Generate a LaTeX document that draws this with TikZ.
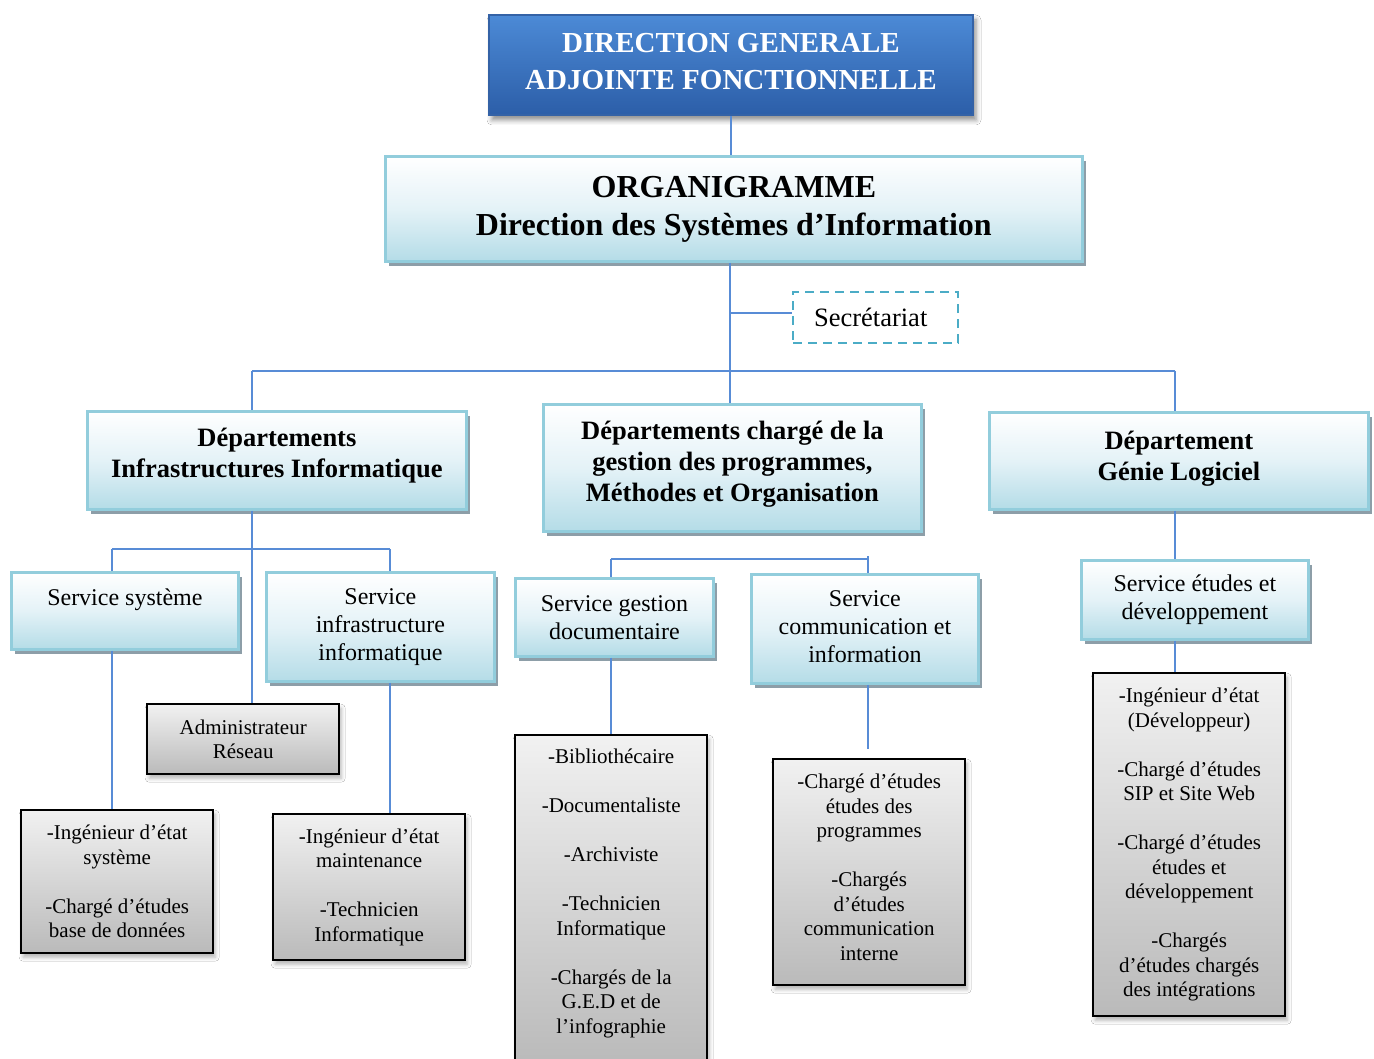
\documentclass[tikz,border=0pt]{standalone}
\usepackage{fontspec}
\setmainfont{Liberation Serif}
\usetikzlibrary{shadows,shadows.blur}

\definecolor{linkblue}{RGB}{88,140,214}
\definecolor{boxedge}{RGB}{146,205,220}
\definecolor{boxmid}{RGB}{228,242,247}
\definecolor{boxfill}{RGB}{180,220,231}
\definecolor{boxshadow}{RGB}{141,158,168}
\definecolor{dashcol}{RGB}{75,172,198}
\definecolor{graytop}{RGB}{241,241,241}
\definecolor{graybot}{RGB}{186,186,186}
\definecolor{bluetop}{RGB}{76,138,214}
\definecolor{bluebot}{RGB}{44,94,168}
\definecolor{blueedge}{RGB}{52,98,166}

% invisible strut giving the last text line a fixed depth, so the text sits higher in its box
\newcommand{\deepline}[1]{\rule[-#1]{0pt}{0pt}}

\tikzset{
  conn/.style={draw=linkblue, line width=2pt},
  topbox/.style={rectangle, anchor=north west, draw=blueedge, line width=2pt,
    top color=bluetop, bottom color=bluebot, text=white, align=center,
    font=\bfseries\fontsize{29pt}{37pt}\selectfont, inner sep=0pt,
    blur shadow={shadow xshift=3pt, shadow yshift=-5pt, shadow blur radius=5pt, shadow opacity=45}},
  lbox/.style={rectangle, anchor=north west, draw=boxedge, line width=2.8pt,
    top color=white, bottom color=boxfill, middle color=boxmid, align=center, inner sep=0pt,
    drop shadow={fill=boxshadow, opacity=1, shadow xshift=4pt, shadow yshift=-5pt}},
  titlefont/.style={font=\bfseries\fontsize{32pt}{38pt}\selectfont},
  deptfont/.style={font=\bfseries\fontsize{26.5pt}{31pt}\selectfont},
  svcfont/.style={font=\fontsize{24pt}{28pt}\selectfont},
  gbox/.style={rectangle, anchor=north west, draw=black, line width=2.4pt,
    top color=graytop, bottom color=graybot, align=center, inner sep=0pt,
    font=\fontsize{21pt}{24.5pt}\selectfont,
    blur shadow={shadow xshift=2pt, shadow yshift=-4pt, shadow blur radius=4pt, shadow opacity=30}},
  secbox/.style={rectangle, anchor=north west, draw=dashcol, line width=2.4pt,
    dash pattern=on 9pt off 6pt, fill=white, inner sep=0pt,
    font=\fontsize{26.5pt}{30pt}\selectfont}
}

\begin{document}
\begin{tikzpicture}[x=1pt,y=-1pt]
\fill[white] (0,0) rectangle (1374,1059);
\useasboundingbox (0,0) rectangle (1374,1059);

% junction points of the connector tree
\coordinate (hub)  at (730,371);
\coordinate (busL) at (252,371);
\coordinate (busR) at (1175,371);
\coordinate (secj) at (730,313);
\coordinate (s1L)  at (112,549);
\coordinate (s1R)  at (390,549);
\coordinate (s2L)  at (611,559);
\coordinate (s2R)  at (868,559);
\coordinate (s2Rt) at (868,556);
\coordinate (comend) at (868,749);

% direction
\node[topbox, minimum width=484pt, minimum height=100pt] (dga) at (488,14)
  {DIRECTION GENERALE\\ADJOINTE FONCTIONNELLE\deepline{8pt}};
\node[lbox, titlefont, minimum width=697pt, minimum height=105pt] (org) at (384,155)
  {ORGANIGRAMME\\Direction des Systèmes d’Information};
\node[secbox, minimum width=165pt, minimum height=51pt] (sec) at (792,291)
  {Secrétariat\hspace*{10pt}};

% departments
\node[lbox, deptfont, minimum width=379pt, minimum height=98pt] (d1) at (86,410)
  {Départements\\Infrastructures Informatique\deepline{15.5pt}};
\node[lbox, deptfont, minimum width=378pt, minimum height=127pt] (d2) at (542,403)
  {Départements chargé de la\\gestion des programmes,\\Méthodes et Organisation\deepline{13.5pt}};
\node[lbox, deptfont, minimum width=379pt, minimum height=97pt] (d3) at (988,411)
  {Département\\Génie Logiciel\deepline{9.5pt}};

% services
\node[lbox, svcfont, minimum width=227pt, minimum height=77pt, text depth=27pt] (ss) at (10,571)
  {Service système};
\node[lbox, svcfont, minimum width=228pt, minimum height=109pt] (si) at (265,571)
  {Service\\infrastructure\\informatique};
\node[lbox, svcfont, minimum width=198pt, minimum height=78pt] (sg) at (514,577)
  {Service gestion\\documentaire};
\node[lbox, svcfont, minimum width=227pt, minimum height=109pt] (sc) at (750,573)
  {Service\\communication et\\information\deepline{4pt}};
\node[lbox, svcfont, minimum width=227pt, minimum height=79pt] (se) at (1080,559)
  {Service études et\\développement};

% staff
\node[gbox, minimum width=192pt, minimum height=70pt] (adm) at (146,703)
  {Administrateur\\Réseau};
\node[gbox, minimum width=192pt, minimum height=143pt] (g1) at (20,809)
  {-Ingénieur d’état\\système\\[24.5pt]-Chargé d’études\\base de données};
\node[gbox, minimum width=192pt, minimum height=146pt] (g2) at (272,813)
  {-Ingénieur d’état\\maintenance\\[24.5pt]-Technicien\\Informatique};
\node[gbox, minimum width=192pt, minimum height=328pt] (g3) at (514,734)
  {-Bibliothécaire\\[24.5pt]-Documentaliste\\[24.5pt]-Archiviste\\[24.5pt]%
   -Technicien\\Informatique\\[24.5pt]-Chargés de la\\G.E.D et de\\l’infographie\deepline{16.5pt}};
\node[gbox, minimum width=192pt, minimum height=226pt] (g4) at (772,758)
  {-Chargé d’études\\études des\\programmes\\[24.5pt]%
   -Chargés\\d’études\\communication\\interne\deepline{10pt}};
\node[gbox, minimum width=192pt, minimum height=343pt] (g5) at (1092,672)
  {-Ingénieur d’état\\(Développeur)\\[24.5pt]-Chargé d’études\\SIP et Site Web\\[24.5pt]-Chargé d’études\\études et\\développement\\[24.5pt]-Chargés\\d’études chargés\\des intégrations};

% connectors
\draw[conn] (dga.south) -- (dga.south |- org.north);
\draw[conn] (hub |- org.south) -- (hub);
\draw[conn] (secj) -- (secj -| sec.west);
\draw[conn] (busL) -- (busR);
\draw[conn] (busL) -- (busL |- d1.north);
\draw[conn] (hub) -- (hub |- d2.north);
\draw[conn] (busR) -- (busR |- d3.north);

\draw[conn] (busL |- d1.south) -- (busL |- adm.north);
\draw[conn] (s1L) -- (s1R);
\draw[conn] (s1L) -- (s1L |- ss.north);
\draw[conn] (s1R) -- (s1R |- si.north);
\draw[conn] (s1L |- ss.south) -- (s1L |- g1.north);
\draw[conn] (s1R |- si.south) -- (s1R |- g2.north);

\draw[conn] (s2L) -- (s2R);
\draw[conn] (s2L) -- (s2L |- sg.north);
\draw[conn] (s2Rt) -- (s2R |- sc.north);
\draw[conn] (s2L |- sg.south) -- (s2L |- g3.north);
\draw[conn] (s2R |- sc.south) -- (comend);

\draw[conn] (busR |- d3.south) -- (busR |- se.north);
\draw[conn] (busR |- se.south) -- (busR |- g5.north);
\end{tikzpicture}
\end{document}
